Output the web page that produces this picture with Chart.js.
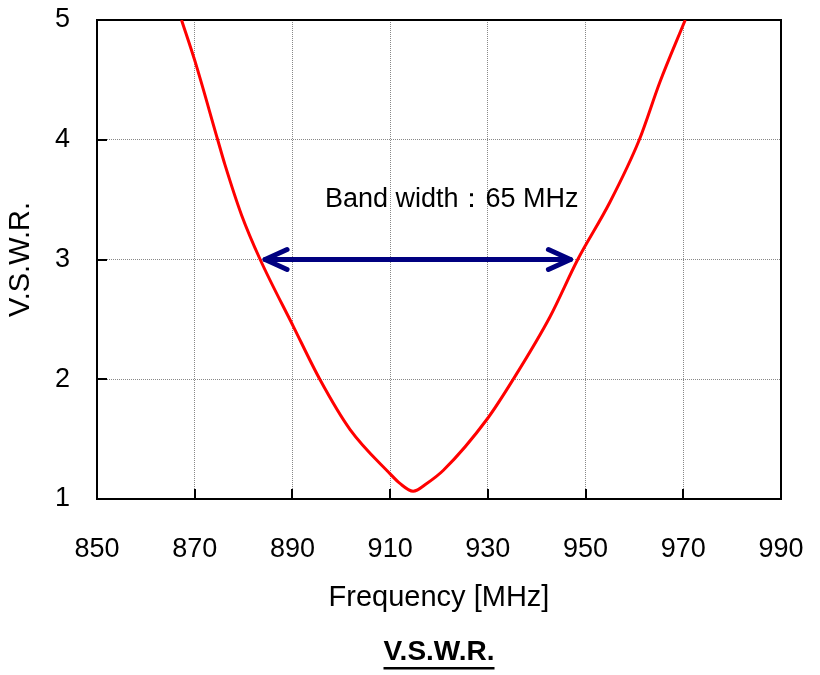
<!DOCTYPE html>
<html>
<head>
<meta charset="utf-8">
<script src="https://cdn.jsdelivr.net/npm/chart.js@4/dist/chart.umd.min.js"></script>
<style>
  html, body { margin: 0; padding: 0; background: #fff; }
  #wrap { width: 820px; height: 675px; position: relative; }
</style>
</head>
<body>
<div id="wrap"><canvas id="c" width="820" height="675"></canvas></div>
<script>
// ---- data ----
const frequencyMHz = [867.3, 870.1, 874.7, 876.2, 879.6, 883.4, 890.2, 895.6, 901.8, 910.0, 912.0, 914.7, 917.5, 920.9, 929.9, 935.2, 942.7, 948.4, 955.0, 961.0, 965.2, 970.4];
const vswrValues   = [5.00, 4.65, 4.00, 3.79, 3.37, 3.00, 2.44, 2.00, 1.58, 1.21, 1.13, 1.065, 1.13, 1.24, 1.67, 2.00, 2.52, 3.00, 3.48, 4.00, 4.48, 5.00];
const bandEdgesMHz = [884.4, 946.9];
const bandLevel = [3.0, 3.0];
const bandLabel = "Band width\uFF1A65 MHz";
const bandLabelPos = [922.6, 3.5];
const xTicks = [850, 870, 890, 910, 930, 950, 970, 990];
const yTicks = [1, 2, 3, 4, 5];
const xTitle = "Frequency [MHz]";
const yTitle = "V.S.W.R.";
const chartTitle = "V.S.W.R.";

const FONT = "'Liberation Sans', Arial, sans-serif";

const curve = frequencyMHz.map((f, i) => ({x: f, y: vswrValues[i]}));
const bandLine = bandEdgesMHz.map((f, i) => ({x: f, y: bandLevel[i]}));

const decor = {
  id: 'decor',
  beforeDatasetsDraw(chart) {
    const {ctx, chartArea: a, scales: {x, y}} = chart;
    ctx.save();
    ctx.strokeStyle = '#000';
    ctx.lineWidth = 2;
    ctx.strokeRect(a.left, a.top, a.right - a.left, a.bottom - a.top);
    ctx.beginPath();
    xTicks.forEach(v => { const px = Math.round(x.getPixelForValue(v)); ctx.moveTo(px, a.bottom); ctx.lineTo(px, a.bottom - 10); });
    yTicks.forEach(v => { const py = Math.round(y.getPixelForValue(v)); ctx.moveTo(a.left, py); ctx.lineTo(a.left + 10, py); });
    ctx.stroke();
    ctx.restore();
  },
  afterDatasetsDraw(chart) {
    const {ctx, scales: {x, y}} = chart;
    ctx.save();
    ctx.strokeStyle = '#000080';
    ctx.lineWidth = 5;
    ctx.lineCap = 'round';
    ctx.lineJoin = 'round';
    const yy = y.getPixelForValue(bandLevel[0]);
    const xl = x.getPixelForValue(bandEdgesMHz[0]);
    const xr = x.getPixelForValue(bandEdgesMHz[1]);
    ctx.beginPath();
    ctx.moveTo(xl + 22, yy - 10); ctx.lineTo(xl, yy); ctx.lineTo(xl + 22, yy + 10);
    ctx.moveTo(xr - 22, yy - 10); ctx.lineTo(xr, yy); ctx.lineTo(xr - 22, yy + 10);
    ctx.stroke();
    ctx.fillStyle = '#000';
    ctx.font = "27px " + FONT;
    ctx.textAlign = 'center';
    ctx.textBaseline = 'middle';
    ctx.fillText(bandLabel, x.getPixelForValue(bandLabelPos[0]), y.getPixelForValue(bandLabelPos[1]));
    ctx.restore();
  },
  afterDraw(chart) {
    const {ctx} = chart;
    const t = chart.titleBlock;
    if (!t) return;
    ctx.save();
    ctx.fillStyle = '#000';
    ctx.font = "bold 28px " + FONT;
    const w = ctx.measureText(chartTitle).width;
    const cx = (t.left + t.right) / 2;
    ctx.fillRect(cx - w / 2, 667, w, 2.5);
    ctx.restore();
  }
};

new Chart(document.getElementById('c'), {
  type: 'scatter',
  data: {
    datasets: [
      { data: curve, showLine: true, borderColor: '#ff0000', borderWidth: 3, pointRadius: 0, tension: 0.25, cubicInterpolationMode: 'monotone', order: 1 },
      { data: bandLine, showLine: true, borderColor: '#000080', borderWidth: 5, pointRadius: 0, borderCapStyle: 'round', order: 2 }
    ]
  },
  options: {
    responsive: false,
    animation: false,
    events: [],
    layout: { padding: { left: 0, right: 39, top: 20, bottom: 0 } },
    plugins: {
      legend: { display: false },
      tooltip: { enabled: false },
      title: {
        display: true, position: 'bottom', fullSize: false, text: chartTitle,
        color: '#000', font: { family: FONT, size: 28, weight: 'bold' },
        padding: { top: 0, bottom: 6 }
      }
    },
    scales: {
      x: {
        type: 'linear', min: 850, max: 990,
        afterBuildTicks: s => { s.ticks = xTicks.map(v => ({value: v})); },
        afterFit: s => { s.height = 136.4; s.paddingLeft = 0; s.paddingRight = 0; },
        ticks: { color: '#000', font: { family: FONT, size: 27 }, padding: 34, maxRotation: 0 },
        grid: { color: '#888', lineWidth: 1, drawTicks: false },
        border: { display: false, dash: [1, 1] },
        title: { display: true, text: xTitle, color: '#000', font: { family: FONT, size: 29 }, padding: { top: 0, bottom: 20 } }
      },
      y: {
        type: 'linear', min: 1, max: 5,
        afterBuildTicks: s => { s.ticks = yTicks.map(v => ({value: v})); },
        afterFit: s => { s.width = 97; s.paddingTop = 0; s.paddingBottom = 0; },
        ticks: { color: '#000', font: { family: FONT, size: 27 }, padding: 27 },
        grid: { color: '#888', lineWidth: 1, drawTicks: false },
        border: { display: false, dash: [1, 1] },
        title: { display: true, text: yTitle, color: '#000', font: { family: FONT, size: 29 }, padding: { top: 4, bottom: 0 } }
      }
    }
  },
  plugins: [decor]
});
</script>
</body>
</html>
